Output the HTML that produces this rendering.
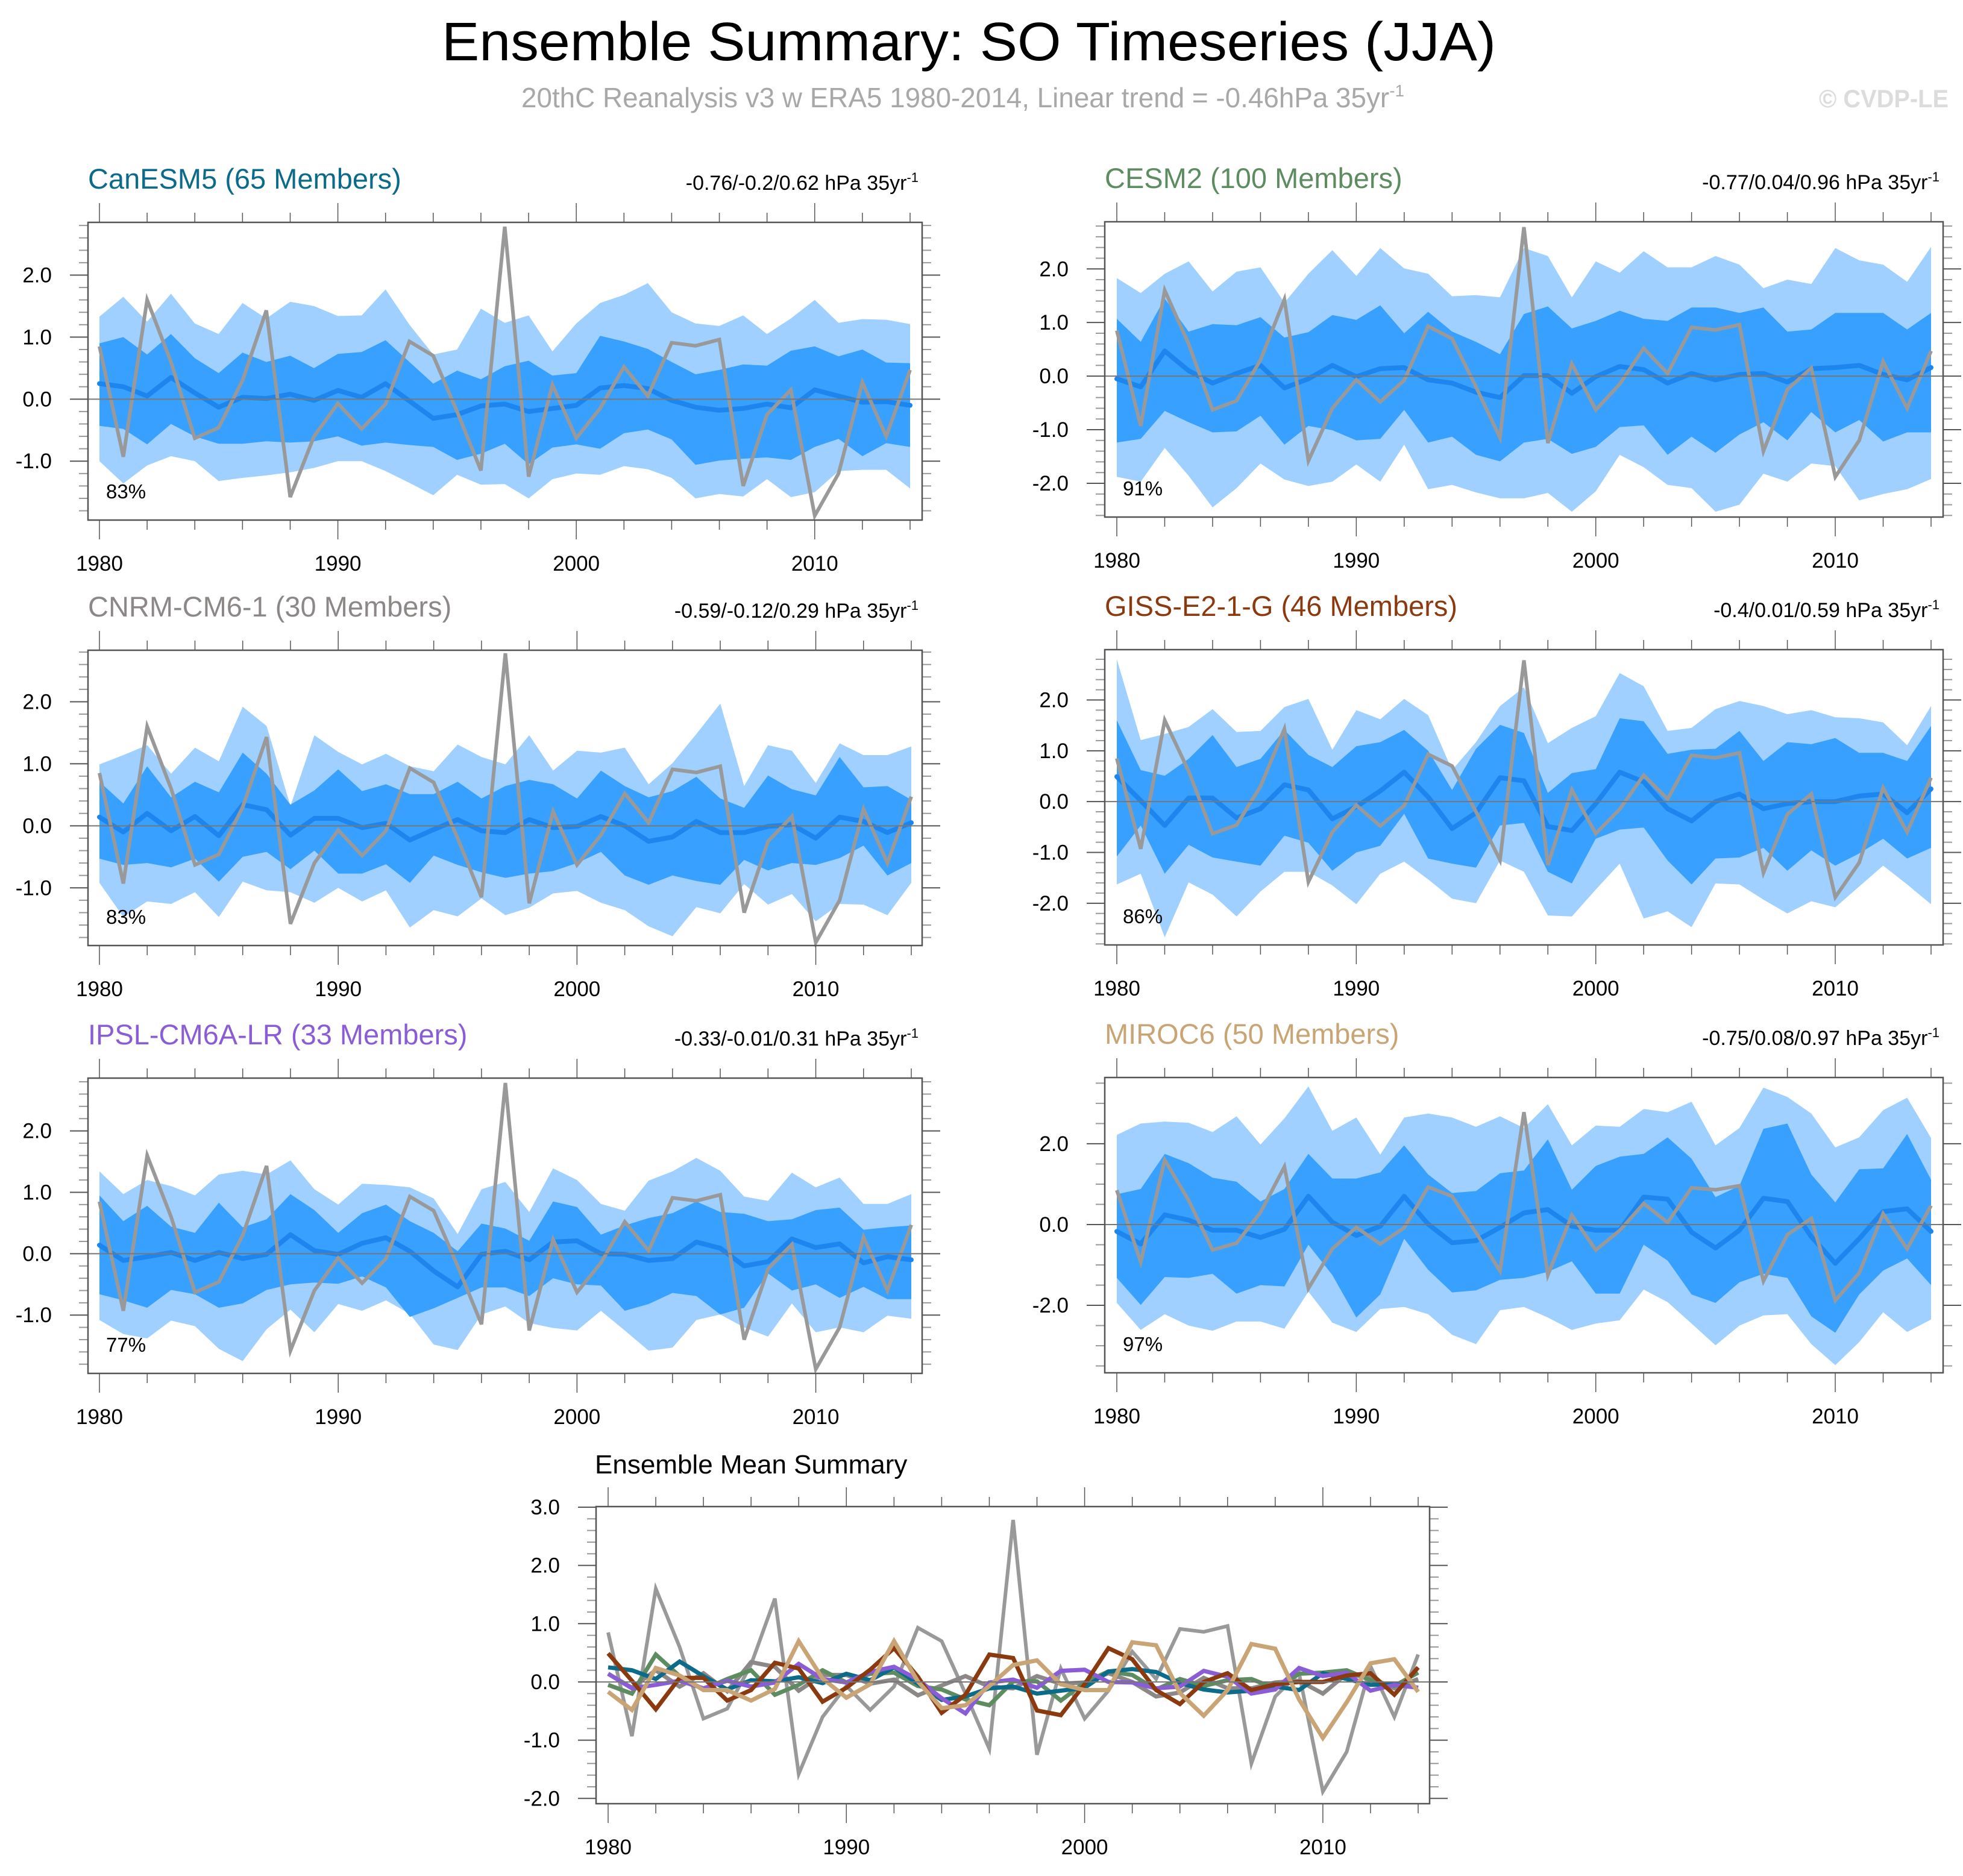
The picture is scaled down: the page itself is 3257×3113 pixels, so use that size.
<!DOCTYPE html>
<html><head><meta charset="utf-8"><style>html,body{margin:0;padding:0;background:#fff}svg{display:block}text{font-family:"Liberation Sans",sans-serif}</style></head>
<body>
<svg id="fig" xmlns="http://www.w3.org/2000/svg" width="3257" height="3113" viewBox="0 0 3257 3113">
<rect width="3257" height="3113" fill="#fff"/>
<text x="733" y="100" font-size="90" textLength="1749" lengthAdjust="spacingAndGlyphs">Ensemble Summary: SO Timeseries (JJA)</text>
<text x="865" y="178" font-size="46" fill="#a8a8a8" textLength="1465" lengthAdjust="spacingAndGlyphs">20thC Reanalysis v3 w ERA5 1980-2014, Linear trend = -0.46hPa 35yr<tspan dy="-18" font-size="28">-1</tspan></text>
<text x="3018" y="178" font-size="42" font-weight="bold" fill="#dcdcdc" textLength="215" lengthAdjust="spacingAndGlyphs">© CVDP-LE</text>
</svg>
<script>
const years = [];
for (let y = 1980; y <= 2014; y++) years.push(y);
const obs = [0.85,-0.93,1.6,0.6,-0.63,-0.46,0.3,1.43,-1.58,-0.6,-0.07,-0.48,-0.08,0.93,0.7,-0.2,-1.15,2.78,-1.25,0.23,-0.63,-0.15,0.52,0.05,0.91,0.86,0.96,-1.4,-0.25,0.15,-1.88,-1.2,0.27,-0.6,0.47];

const canMean = [0.25,0.2,0.05,0.35,0.1,-0.13,0.03,0.01,0.08,-0.02,0.14,0.03,0.25,-0.03,-0.31,-0.25,-0.11,-0.08,-0.2,-0.15,-0.1,0.18,0.22,0.17,-0.02,-0.13,-0.18,-0.15,-0.08,-0.14,0.15,0.05,-0.05,-0.04,-0.1];
const canIn1 = [0.9,1.0,0.72,1.05,0.66,0.42,0.75,0.6,0.7,0.5,0.73,0.76,0.95,0.6,0.25,0.46,0.32,0.53,0.62,0.38,0.42,1.02,0.93,0.81,0.6,0.4,0.47,0.56,0.54,0.78,0.85,0.69,0.8,0.59,0.58];
const canIn0 = [-0.43,-0.48,-0.73,-0.4,-0.6,-0.72,-0.72,-0.68,-0.7,-0.68,-0.6,-0.75,-0.7,-0.74,-0.77,-0.98,-0.88,-0.72,-1.05,-0.78,-0.73,-0.8,-0.55,-0.49,-0.65,-1.06,-0.99,-0.96,-0.94,-0.98,-0.77,-0.64,-0.92,-0.71,-0.77];
const canOut1 = [1.33,1.65,1.25,1.7,1.22,1.05,1.55,1.3,1.57,1.5,1.34,1.35,1.77,1.2,0.72,0.8,1.46,1.23,1.35,0.77,1.22,1.55,1.68,1.87,1.4,1.22,1.18,1.35,1.05,1.3,1.6,1.23,1.29,1.28,1.21];
const canOut0 = [-1.0,-1.36,-1.07,-0.92,-1.0,-1.32,-1.27,-1.23,-1.18,-1.11,-1.0,-1.0,-1.16,-1.35,-1.55,-1.22,-1.38,-1.37,-1.6,-1.29,-1.2,-1.22,-1.08,-1.13,-1.27,-1.6,-1.53,-1.57,-1.29,-1.58,-1.5,-1.16,-1.14,-1.14,-1.44];

const cesmMean = [-0.05,-0.2,0.47,0.1,-0.13,0.05,0.2,-0.22,-0.05,0.2,-0.01,0.14,0.16,-0.07,-0.13,-0.3,-0.4,0.01,0.01,-0.32,-0.01,0.18,0.12,-0.13,0.05,-0.07,0.03,0.05,-0.11,0.14,0.16,0.2,0.03,-0.07,0.16];
const cesmIn1 = [1.07,0.64,1.45,0.83,0.97,0.95,1.1,0.72,0.82,1.14,1.05,1.32,0.8,1.2,0.83,0.64,0.41,1.16,1.3,0.89,1.03,1.22,1.07,1.03,1.28,1.28,1.18,1.28,0.83,0.87,1.18,1.18,1.18,0.87,1.18];
const cesmIn0 = [-1.24,-1.17,-0.65,-0.86,-1.05,-1.03,-0.74,-1.28,-0.93,-1.01,-1.2,-1.17,-0.63,-1.24,-1.13,-1.47,-1.59,-1.24,-1.17,-1.45,-1.32,-0.95,-0.92,-1.47,-1.13,-1.43,-1.09,-0.86,-1.2,-0.67,-1.05,-0.82,-1.22,-1.05,-1.05];
const cesmOut1 = [1.83,1.55,1.91,2.14,1.58,1.95,2.03,1.37,1.91,2.35,1.87,2.39,2.01,1.91,1.49,1.51,1.47,2.39,2.24,1.47,2.14,1.93,2.33,2.03,2.03,2.24,2.08,1.64,1.8,1.72,2.39,2.16,2.08,1.76,2.41];
const cesmOut0 = [-1.88,-1.97,-1.34,-1.86,-2.45,-2.09,-1.63,-1.93,-2.05,-1.97,-1.65,-1.97,-1.28,-2.11,-2.03,-2.17,-2.28,-2.28,-2.18,-2.53,-2.15,-1.47,-1.7,-2.03,-2.09,-2.53,-2.4,-1.82,-1.97,-1.63,-1.68,-2.32,-2.2,-2.11,-1.92];

const cnrmMean = [0.14,-0.1,0.2,-0.08,0.15,-0.16,0.34,0.26,-0.15,0.12,0.12,-0.03,0.04,-0.23,-0.06,0.1,-0.08,-0.11,0.1,-0.03,-0.01,0.15,0,-0.25,-0.18,0.07,-0.11,-0.11,-0.01,0.02,-0.2,0.14,0.07,-0.11,0.05];
const cnrmIn1 = [0.71,0.36,0.96,0.46,0.71,0.54,1.18,0.84,0.34,0.57,0.91,0.56,0.67,0.51,0.51,0.71,0.44,0.64,0.74,0.67,0.44,0.89,0.64,0.46,0.56,0.79,0.44,0.29,0.81,0.59,0.49,1.11,0.62,0.64,0.42];
const cnrmIn0 = [-0.53,-0.63,-0.6,-0.67,-0.53,-0.9,-0.5,-0.42,-0.7,-0.4,-0.77,-0.77,-0.62,-0.92,-0.48,-0.63,-0.75,-0.84,-0.77,-0.73,-0.6,-0.42,-0.8,-0.95,-0.8,-0.89,-0.95,-0.55,-0.72,-0.6,-0.63,-0.52,-0.32,-0.8,-0.6];
const cnrmOut1 = [0.99,1.14,1.3,0.84,1.26,1.04,1.92,1.61,0.32,1.46,1.19,0.99,1.16,0.96,0.88,1.31,1.11,0.99,1.46,0.89,1.21,1.18,1.26,0.67,1.01,1.48,1.97,0.64,1.3,1.21,0.69,1.33,1.14,1.14,1.28];
const cnrmOut0 = [-0.92,-1.47,-1.22,-1.26,-1.07,-1.47,-0.9,-1.04,-1.07,-1.24,-1.0,-1.22,-1.04,-1.64,-1.36,-1.46,-1.17,-1.44,-1.32,-1.09,-1.05,-1.24,-1.36,-1.62,-1.78,-1.31,-1.41,-0.94,-1.27,-1.1,-1.54,-1.26,-1.27,-1.44,-0.92];

const gissMean = [0.49,0.02,-0.47,0.07,0.07,-0.32,-0.14,0.33,0.23,-0.34,-0.1,0.21,0.58,0.09,-0.53,-0.22,0.47,0.41,-0.49,-0.57,-0.04,0.58,0.39,-0.14,-0.38,0,0.15,-0.14,-0.04,0,0,0.11,0.15,-0.22,0.25];
const gissIn1 = [1.6,0.62,0.51,0.84,1.31,0.68,0.84,1.41,0.92,0.68,1.09,1.17,1.41,1.0,0.23,1.04,1.51,1.35,0.17,0.56,0.64,1.64,1.58,0.94,1.02,1.04,1.39,0.8,1.17,1.13,1.25,0.96,0.96,0.8,1.49];
const gissIn0 = [-1.08,-0.47,-1.42,-0.85,-1.1,-1.18,-1.26,-0.67,-0.81,-1.36,-1.0,-0.87,-0.24,-1.12,-1.22,-1.3,-0.47,-0.42,-1.38,-1.61,-0.73,-0.55,-0.51,-1.16,-1.63,-1.12,-1.1,-0.91,-1.36,-0.96,-1.26,-1.02,-0.73,-1.12,-0.91];
const gissOut1 = [2.8,1.21,1.33,1.47,1.82,1.37,1.39,1.86,2.02,1.02,1.8,1.62,2.02,1.7,0.62,1.17,1.88,2.25,1.15,1.45,1.68,2.53,2.27,1.39,1.45,1.82,1.98,1.88,1.72,1.8,1.66,1.64,1.56,1.11,1.88];
const gissOut0 = [-1.63,-1.42,-2.67,-1.59,-1.83,-2.26,-1.77,-1.38,-1.38,-1.65,-2.02,-1.42,-1.18,-1.53,-1.91,-2.0,-1.16,-1.38,-2.24,-2.26,-1.73,-1.22,-2.3,-2.16,-2.47,-1.61,-1.63,-1.93,-2.2,-1.96,-2.08,-1.67,-1.26,-1.63,-2.02];

const ipslMean = [0.14,-0.11,-0.05,0.02,-0.11,0.02,-0.08,-0.01,0.31,0.05,-0.01,0.17,0.26,0.04,-0.28,-0.54,-0.01,0.04,-0.1,0.19,0.21,0,-0.01,-0.11,-0.08,0.19,0.09,-0.2,-0.13,0.24,0.1,0.16,-0.15,-0.05,-0.1];
const ipslIn1 = [0.95,0.53,0.78,0.44,0.34,0.83,0.43,0.56,0.97,0.71,0.34,0.66,0.8,0.53,0.34,0.04,0.49,0.41,0.21,0.85,0.76,0.31,0.46,0.58,0.66,0.85,0.68,0.65,0.53,0.56,0.71,0.75,0.39,0.43,0.46];
const ipslIn0 = [-0.66,-0.76,-0.88,-0.59,-0.66,-0.88,-0.81,-0.59,-0.5,-0.47,-0.49,-0.37,-0.55,-1.03,-0.89,-0.72,-0.55,-0.55,-0.69,-0.4,-0.5,-0.52,-0.93,-0.82,-0.64,-0.69,-0.99,-0.88,-0.32,-0.6,-0.5,-0.72,-0.54,-0.74,-0.74];
const ipslOut1 = [1.34,0.97,1.2,1.1,0.95,1.29,1.35,1.29,1.52,1.05,0.8,1.14,1.12,1.08,0.9,0.32,1.05,1.17,0.68,1.39,1.2,0.81,0.7,1.19,1.34,1.56,1.35,0.93,0.86,1.32,1.08,1.24,0.81,0.81,0.97];
const ipslOut0 = [-1.08,-1.31,-1.38,-1.09,-1.18,-1.55,-1.75,-1.23,-0.91,-1.28,-0.82,-0.93,-0.76,-0.98,-1.48,-1.57,-0.99,-0.86,-1.13,-1.21,-1.25,-0.93,-1.25,-1.58,-1.53,-1.08,-0.99,-1.2,-1.35,-0.81,-1.28,-1.2,-1.28,-1.01,-1.06];

const mirocMean = [-0.17,-0.48,0.24,0.11,-0.14,-0.14,-0.32,-0.12,0.7,0.06,-0.27,-0.04,0.7,0.01,-0.45,-0.4,-0.07,0.29,0.37,-0.04,-0.14,-0.14,0.68,0.63,-0.19,-0.58,-0.14,0.65,0.57,-0.3,-0.96,-0.35,0.32,0.39,-0.17];
const mirocIn1 = [0.75,0.88,1.75,1.52,1.16,1.06,0.57,0.88,1.75,1.14,1.14,1.29,1.96,1.24,0.78,0.83,1.27,1.34,2.11,0.86,1.45,1.68,1.75,2.16,1.63,0.68,0.96,2.37,2.5,1.24,0.55,1.37,1.39,2.24,1.11];
const mirocIn0 = [-1.32,-1.99,-1.3,-1.32,-1.22,-1.71,-1.5,-1.53,-0.5,-1.25,-2.3,-1.73,-0.35,-1.12,-1.68,-1.63,-1.37,-1.32,-1.17,-0.91,-1.71,-1.71,-0.5,-0.89,-1.73,-1.94,-1.43,-1.22,-1.32,-2.27,-2.68,-1.73,-1.14,-0.84,-1.5];
const mirocOut1 = [2.22,2.5,2.55,2.52,2.29,2.68,1.98,2.63,3.42,2.32,2.65,1.73,2.65,2.75,2.65,2.42,2.68,2.39,2.98,1.96,2.45,2.42,2.86,2.78,3.04,1.96,2.39,3.39,3.16,2.75,1.91,2.16,2.83,3.14,2.14];
const mirocOut0 = [-1.94,-2.61,-2.22,-2.5,-2.63,-2.4,-2.4,-2.58,-1.66,-2.43,-2.66,-2.09,-2.04,-2.22,-2.73,-2.96,-2.12,-2.04,-2.3,-2.61,-2.45,-2.37,-1.61,-1.92,-2.45,-2.99,-2.5,-2.25,-2.22,-2.96,-3.48,-2.91,-2.17,-2.66,-2.35];

const modelNames = ["CanESM5 (65 Members)","CESM2 (100 Members)","CNRM-CM6-1 (30 Members)","GISS-E2-1-G (46 Members)","IPSL-CM6A-LR (33 Members)","MIROC6 (50 Members)"];
const trendLabels = ["-0.76/-0.2/0.62","-0.77/0.04/0.96","-0.59/-0.12/0.29","-0.4/0.01/0.59","-0.33/-0.01/0.31","-0.75/0.08/0.97"];
const percents = ["83%","91%","83%","86%","77%","97%"];
const yTickVals = [[-1,0,1,2],[-2,-1,0,1,2],[-1,0,1,2],[-2,-1,0,1,2],[-1,0,1,2],[-2,0,2]];
const xTickYears = [1980,1990,2000,2010];
const summaryTicks = [-2,-1,0,1,2,3];

const NS = "http://www.w3.org/2000/svg";
const svg = document.getElementById("fig");
function mk(tag, attrs, parent) {
  const e = document.createElementNS(NS, tag);
  for (const k in attrs) e.setAttribute(k, attrs[k]);
  (parent || svg).appendChild(e);
  return e;
}
const colors = ["#0c6a8a","#5e8c61","#8c8888","#8b3a0f","#8a5cd6","#c9a474"];
const means = [canMean,cesmMean,cnrmMean,gissMean,ipslMean,mirocMean];
const in1 = [canIn1,cesmIn1,cnrmIn1,gissIn1,ipslIn1,mirocIn1];
const in0 = [canIn0,cesmIn0,cnrmIn0,gissIn0,ipslIn0,mirocIn0];
const out1 = [canOut1,cesmOut1,cnrmOut1,gissOut1,ipslOut1,mirocOut1];
const out0 = [canOut0,cesmOut0,cnrmOut0,gissOut0,ipslOut0,mirocOut0];
const boxes = [
 {x0:146,x1:1530,y0:369,y1:863,lo:-1.95,hi:2.85,minor:0.2,xa:165,xb:1510},
 {x0:1833,x1:3224,y0:368,y1:858,lo:-2.63,hi:2.88,minor:0.2,xa:1853,xb:3204},
 {x0:146,x1:1530,y0:1079,y1:1569,lo:-1.93,hi:2.83,minor:0.2,xa:165,xb:1512},
 {x0:1833,x1:3224,y0:1078,y1:1568,lo:-2.82,hi:2.99,minor:0.2,xa:1853,xb:3204},
 {x0:146,x1:1530,y0:1789,y1:2279,lo:-1.95,hi:2.86,minor:0.2,xa:165,xb:1512},
 {x0:1833,x1:3224,y0:1788,y1:2278,lo:-3.67,hi:3.64,minor:0.5,xa:1853,xb:3204}
];

function axes(b) {
  const X = yr => b.xa + (yr - 1980) * (b.xb - b.xa) / 34;
  const Y = v => b.y1 - (v - b.lo) * (b.y1 - b.y0) / (b.hi - b.lo);
  return {X, Y};
}
function poly(arr, X, Y) { return arr.map((v,i)=>X(years[i]).toFixed(1)+","+Y(v).toFixed(1)).join(" "); }

function drawFrame(b, X, Y, ticks, g) {
  for (let v = Math.ceil(b.lo / b.minor) * b.minor; v <= b.hi + 1e-9; v += b.minor) {
    const y = Y(v);
    const isMajor = ticks.some(t => Math.abs(t - v) < 1e-6);
    const L = isMajor ? 30 : 15;
    const t1 = mk("line",{x1:b.x0-L,x2:b.x0,y1:y,y2:y,stroke:isMajor?"#555":"#999","stroke-width":2},g);
    
    
    const t2 = mk("line",{x1:b.x1,x2:b.x1+L,y1:y,y2:y,stroke:isMajor?"#555":"#999","stroke-width":2},g);
    
    
  }
  for (let yr = 1980; yr <= 2014; yr += 2) {
    const x = X(yr);
    const L = (yr % 10 === 0) ? 32 : 16;
    const a = mk("line",{x1:x,x2:x,y1:b.y0-L,y2:b.y0,stroke:"#555","stroke-width":1.5},g);
    
    
    const c = mk("line",{x1:x,x2:x,y1:b.y1,y2:b.y1+L,stroke:"#555","stroke-width":1.5},g);
    
    
  }
  ticks.forEach(t => {
    const lab = mk("text",{x:b.x0-60,y:Y(t)+12,"font-size":35,"text-anchor":"end"},g);
    
    
    lab.textContent = t.toFixed(1);
  });
  xTickYears.forEach(yr => {
    const lab = mk("text",{x:X(yr),y:b.y1+84,"font-size":35,"text-anchor":"middle"},g);
    
    
    lab.textContent = yr;
  });
  const zl = mk("line",{x1:b.x0,x2:b.x1,y1:Y(0),y2:Y(0),stroke:"#777","stroke-width":2},g);
  
  
  const fr = mk("rect",{x:b.x0,y:b.y0,width:b.x1-b.x0,height:b.y1-b.y0,fill:"none",stroke:"#555","stroke-width":2.5},g);
  
  
}

boxes.forEach((b, i) => {
  const g = mk("g",{});
  
  
  const {X, Y} = axes(b);
  const rev = a => a.slice().reverse();
  const ob = mk("polygon",{points:poly(out1[i],X,Y)+" "+rev(out0[i]).map((v,k)=>X(years[34-k]).toFixed(1)+","+Y(v).toFixed(1)).join(" "),fill:"#a0d0ff"},g);
  
  
  const ib = mk("polygon",{points:poly(in1[i],X,Y)+" "+rev(in0[i]).map((v,k)=>X(years[34-k]).toFixed(1)+","+Y(v).toFixed(1)).join(" "),fill:"#38a0ff"},g);
  
  
  const ml = mk("polyline",{points:poly(means[i],X,Y),fill:"none",stroke:"#1c86ee","stroke-width":8,"stroke-linejoin":"round","stroke-linecap":"round"},g);
  
  
  const ol = mk("polyline",{points:poly(obs,X,Y),fill:"none",stroke:"#999","stroke-width":6,"stroke-linejoin":"miter"},g);
  
  
  drawFrame(b, X, Y, yTickVals[i], g);
  const tt = mk("text",{x:b.x0,y:b.y0-56,"font-size":47,fill:colors[i]},g);
  
  
  tt.textContent = modelNames[i];
  const tr = mk("text",{x:b.x1-6,y:b.y0-54,"font-size":34,"text-anchor":"end"},g);
  
  
  tr.textContent = trendLabels[i] + " hPa 35yr";
  const sup = mk("tspan",{dy:-13,"font-size":22},tr);
  sup.textContent = "-1";
  const pc = mk("text",{x:b.x0+30,y:b.y1-36,"font-size":33},g);
  
  
  pc.textContent = percents[i];
});

const sb = {x0:989,x1:2372,y0:2500,y1:2993,lo:-2.09,hi:3.01,minor:0.2,xa:1009,xb:2353};
const sg = mk("g",{});


const S = axes(sb);
const zl2 = mk("line",{x1:sb.x0,x2:sb.x1,y1:S.Y(0),y2:S.Y(0),stroke:"#888","stroke-width":2},sg);


const so = mk("polyline",{points:poly(obs,S.X,S.Y),fill:"none",stroke:"#999","stroke-width":6},sg);


[2,1,0,4,3,5].forEach(i => {
  const l = mk("polyline",{points:poly(means[i],S.X,S.Y),fill:"none",stroke:colors[i],"stroke-width":7,"stroke-linejoin":"miter"},sg);
  
  
});
drawFrame(sb, S.X, S.Y, summaryTicks, sg);
const st = mk("text",{x:987,y:2445,"font-size":44},sg);


st.textContent = "Ensemble Mean Summary";
</script>
</body></html>
